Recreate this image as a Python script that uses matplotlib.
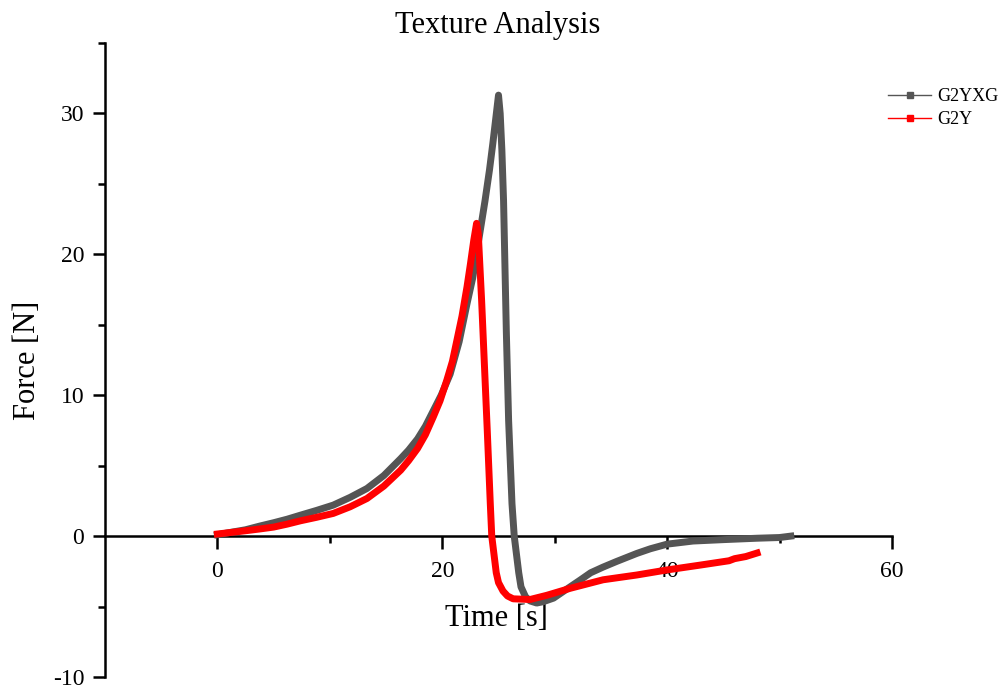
import numpy as np
import matplotlib
matplotlib.use("Agg")
import matplotlib.pyplot as plt
from matplotlib.lines import Line2D

# G2YXG (grey) readings, time [s] vs force [N]
g2yxg_t = [0, 1.2, 2.5, 3.7, 5, 6.2, 7.4, 8.8, 10.3, 11.8, 13.3, 14.8, 16.3, 17.0, 17.8,
           18.5, 19.2, 19.9, 20.7, 21.5, 22.2, 22.7, 23.1, 23.8, 24.2, 24.5,
           25.0, 25.15, 25.3, 25.45, 25.7, 25.9, 26.2, 26.4, 26.8, 27.0, 27.4, 27.8, 28.4,
           29.0, 29.9, 31.0, 32.3, 33.2, 34.3, 35.5, 37.3, 38.5, 40.0, 42.3, 45.0, 48.0,
           50.0, 51.0]
g2yxg_f = [0.1, 0.27, 0.45, 0.7, 0.95, 1.2, 1.49, 1.82, 2.2, 2.75, 3.38, 4.3, 5.5, 6.1, 6.9,
           7.8, 8.9, 10.0, 11.5, 13.8, 16.5, 18.3, 20.3, 23.8, 26.0, 27.9,
           31.3, 30.0, 27.4, 23.8, 14.4, 8.2, 2.3, 0.0, -2.6, -3.6, -4.3, -4.6, -4.75,
           -4.65, -4.4, -3.8, -3.1, -2.6, -2.2, -1.8, -1.23, -0.9, -0.57, -0.35, -0.25, -0.15,
           -0.1, 0.0]

# G2Y (red) readings
g2y_t = [0, 1.2, 2.5, 3.7, 5, 6.2, 7.4, 8.8, 10.3, 11.8, 13.3, 14.8, 16.3, 17.0, 17.8,
         18.5, 19.2, 19.8, 20.4, 20.9, 21.3, 21.75, 22.2, 22.5, 22.8, 23.05,
         23.2, 23.5, 24.0, 24.27, 24.4, 24.8, 25.0, 25.4, 25.8, 26.3, 27.8, 29.3, 31.4, 34.3,
         37.3, 40.0, 43.0, 45.5, 46.0, 47.0, 48.0]
g2y_f = [0.15, 0.26, 0.38, 0.5, 0.64, 0.85, 1.09, 1.33, 1.61, 2.08, 2.67, 3.55, 4.68, 5.35, 6.22,
         7.2, 8.46, 9.6, 11.06, 12.4, 13.9, 15.6, 17.7, 19.3, 21.0, 22.2,
         21.5, 16.7, 7.5, 2.3, 0.0, -2.6, -3.3, -3.9, -4.25, -4.45, -4.5, -4.2, -3.7, -3.1,
         -2.76, -2.4, -2.05, -1.75, -1.6, -1.45, -1.2]

grey = "#555555"
red = "#ff0000"

plt.rcParams["font.family"] = ["Liberation Serif", "DejaVu Serif"]
plt.rcParams["axes.unicode_minus"] = False

fig = plt.figure(figsize=(10.08, 6.89), dpi=100)
ax = fig.add_axes([105 / 1008, 1 - 677 / 689, (892 - 105) / 1008, (677 - 43) / 689])

ax.plot(g2yxg_t, g2yxg_f, color=grey, lw=5, solid_joinstyle="round", zorder=3)
ax.plot(g2y_t, g2y_f, color=red, lw=5, solid_joinstyle="round", zorder=4)

ax.set_xlim(-10, 60)
ax.set_ylim(-10, 35)
ax.spines["top"].set_visible(False)
ax.spines["right"].set_visible(False)
ax.spines["bottom"].set_position(("data", 0))
for s in ("left", "bottom"):
    ax.spines[s].set_linewidth(1.8)

ax.set_xticks([0, 20, 40, 60])
ax.set_xticks([10, 30, 50], minor=True)
ax.set_yticks([-10, 0, 10, 20, 30])
ax.set_yticks([-5, 5, 15, 25, 35], minor=True)
ax.tick_params(which="major", direction="out", length=9, width=1.8, labelsize=17)
ax.tick_params(which="minor", direction="out", length=5, width=1.8)
ax.tick_params(axis="x", pad=9)
ax.tick_params(axis="y", pad=6)

ax.set_xlabel("Time [s]", fontsize=22)
ax.xaxis.set_label_coords(0.497, 0.115)
ax.set_ylabel("Force [N]", fontsize=22)
ax.yaxis.set_label_coords(-0.08, 0.5)

fig.text(498 / 1008, 1 - 33 / 689, "Texture Analysis", ha="center", va="baseline", fontsize=22)

handles = [
    Line2D([], [], color=grey, lw=1, marker="s", ms=4),
    Line2D([], [], color=red, lw=1, marker="s", ms=4),
]
fig.legend(handles, ["G2YXG", "G2Y"], loc="upper left", bbox_to_anchor=(888 / 1008, 1 - 88 / 689),
           frameon=False, fontsize=13, borderpad=0, borderaxespad=0, handlelength=2.4,
           handletextpad=0.35, labelspacing=0.35)

fig.savefig("out.png", dpi=100)
